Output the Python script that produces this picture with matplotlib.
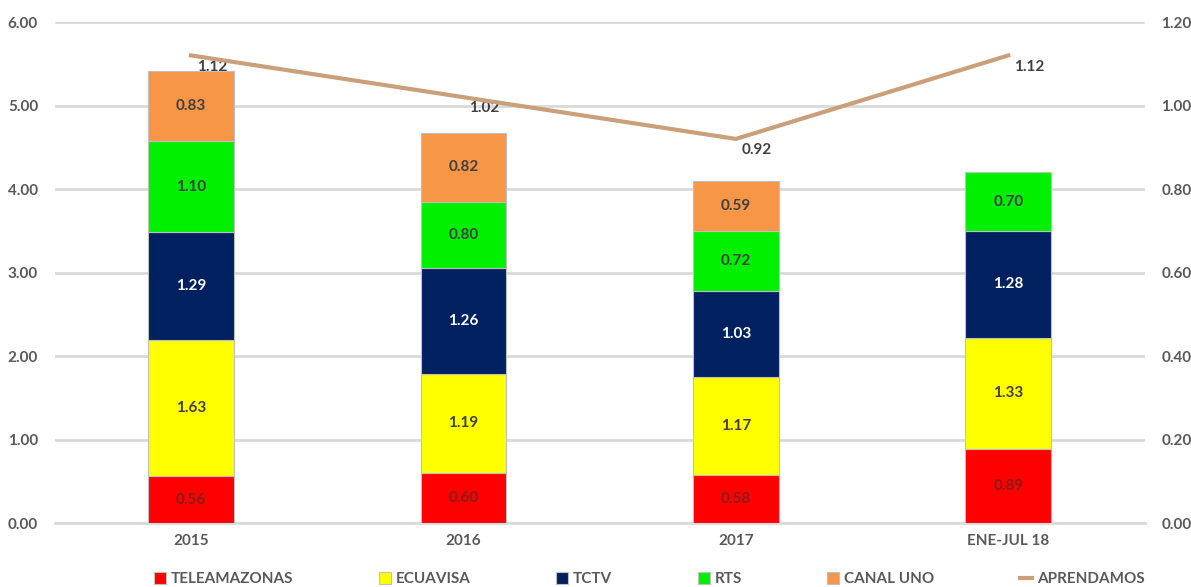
import numpy as np
import matplotlib.pyplot as plt

plt.rcParams['font.family'] = ['Lato', 'DejaVu Sans']
plt.rcParams['font.weight'] = 'bold'

years = ['2015', '2016', '2017', 'ENE-JUL 18']
teleamazonas = [0.56, 0.60, 0.58, 0.89]
ecuavisa = [1.63, 1.19, 1.17, 1.33]
tctv = [1.29, 1.26, 1.03, 1.28]
rts = [1.10, 0.80, 0.72, 0.70]
canal_uno = [0.83, 0.82, 0.59, 0.0]
aprendamos = [1.12, 1.02, 0.92, 1.12]

series = [
    ('TELEAMAZONAS', teleamazonas, '#FF0000', '#8B1A1A'),
    ('ECUAVISA', ecuavisa, '#FFFF00', '#404040'),
    ('TCTV', tctv, '#002060', 'white'),
    ('RTS', rts, '#00F000', '#404040'),
    ('CANAL UNO', canal_uno, '#F79646', '#404040'),
]

fig = plt.figure(figsize=(11.91, 5.87), dpi=100)
ax = fig.add_axes([0.046, 0.109, 0.915, 0.8535])
ax2 = ax.twinx()

x = np.arange(len(years))
bottom = np.zeros(len(years))
for name, vals, col, tcol in series:
    vals = np.array(vals)
    mask = vals > 0
    ax.bar(x[mask], vals[mask], 0.315, bottom=bottom[mask], color=col,
           edgecolor='#BFBFBF', linewidth=0.8, label=name, zorder=3)
    for xi, v, b in zip(x, vals, bottom):
        if v > 0:
            ax.text(xi, b + v / 2, f'{v:.2f}', ha='center', va='center',
                    fontsize=11, color=tcol, fontweight='bold', zorder=4)
    bottom += vals

ax.set_xlim(-0.5, len(years) - 0.5)
ax.set_ylim(0, 6)
ax.set_yticks(np.arange(0, 6.01, 1))
ax.set_yticklabels([f'{v:.2f}' for v in np.arange(0, 6.01, 1)])
ax.set_xticks(x)
ax.set_xticklabels(years)
ax.grid(axis='y', color='#D9D9D9', linewidth=2, zorder=0)
for s in ax.spines.values():
    s.set_visible(False)
ax.spines['bottom'].set_visible(True)
ax.spines['bottom'].set_color('#D9D9D9')
ax.spines['bottom'].set_linewidth(2)
ax.tick_params(axis='both', length=0, labelsize=11, colors='#595959', pad=8)
ax.tick_params(axis='y', pad=12)

ax2.plot(x, aprendamos, color='#C9A07A', linewidth=3, label='APRENDAMOS', zorder=5)
for xi, v in zip(x, aprendamos):
    ax2.annotate(f'{v:.2f}', (xi, v), xytext=(15, -8), textcoords='offset points',
                 ha='center', va='center', fontsize=11, color='#404040', fontweight='bold')
ax2.set_ylim(0, 1.2)
ax2.set_yticks(np.arange(0, 1.21, 0.2))
ax2.set_yticklabels([f'{v:.2f}' for v in np.arange(0, 1.21, 0.2)])
for s in ax2.spines.values():
    s.set_visible(False)
ax2.tick_params(axis='y', length=0, labelsize=11, colors='#595959', pad=12)

h1, l1 = ax.get_legend_handles_labels()
h2, l2 = ax2.get_legend_handles_labels()
leg = fig.legend(h1 + h2, l1 + l2, loc='lower center', bbox_to_anchor=(0.545, -0.022),
                 ncol=6, frameon=False, fontsize=11, handlelength=0.8, handleheight=0.8,
                 columnspacing=5.6, handletextpad=0.3)
for t in leg.get_texts():
    t.set_color('#595959')

fig.savefig('out.png', dpi=100)
